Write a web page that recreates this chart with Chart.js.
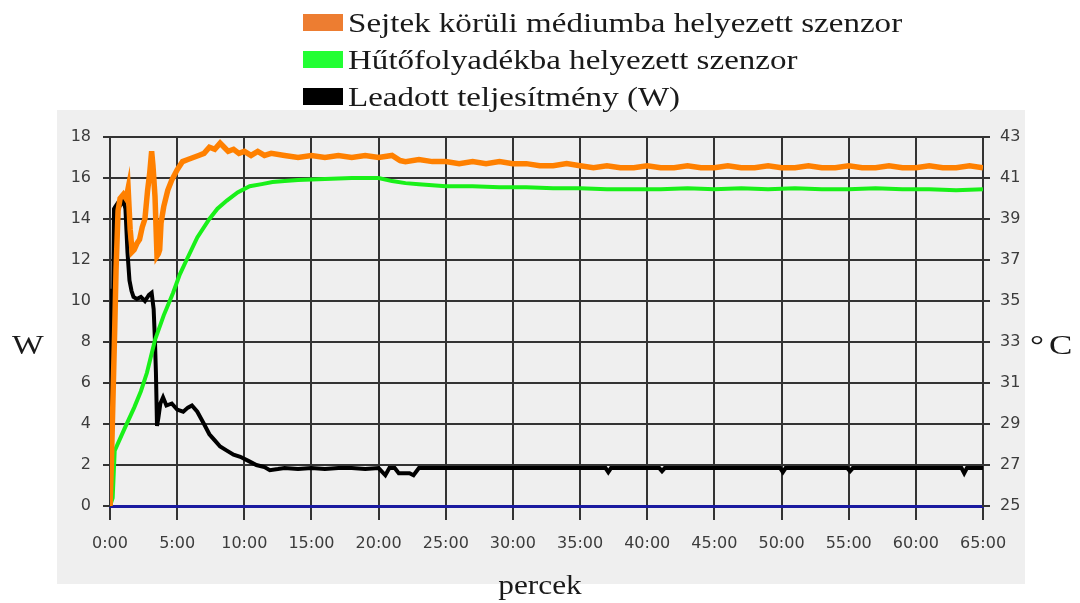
<!DOCTYPE html>
<html>
<head>
<meta charset="utf-8">
<script src="https://cdn.jsdelivr.net/npm/chart.js@4/dist/chart.umd.min.js"></script>
<style>
  body { margin: 0; background: #fff; }
  #wrap { position: relative; width: 1080px; height: 603px; overflow: hidden; }
  #plotBg { position: absolute; left: 57px; top: 110px; width: 968px; height: 474px; background: #efefef; }
  #chart { position: absolute; left: 0; top: 0; }
  .serif { position: absolute; font-family: "Liberation Serif", "Times New Roman", serif; font-size: 28px; line-height: 1; color: #1a1a1a; white-space: nowrap; }
  .legendRow { position: absolute; left: 303px; height: 28px; }
  .legendRow .swatch { position: absolute; left: 0; top: 5px; width: 40px; height: 17px; }
  .legendRow .label { position: absolute; left: 45px; top: 0; transform: scaleX(1.18); transform-origin: left center; }
</style>
</head>
<body>
<div id="wrap">
  <div id="plotBg"></div>
  <canvas id="chart" width="1080" height="603"></canvas>
  <div id="legend"></div>
  <div class="serif" id="yLeftTitle" style="left:12px; top:331px; transform:scaleX(1.2); transform-origin:left center;">W</div>
  <div class="serif" id="yRightTitle" style="left:1030px; top:331px; letter-spacing:4px; transform:scaleX(1.25); transform-origin:left center;">°C</div>
  <div class="serif" id="xTitle" style="left:540px; top:571px; transform:translateX(-50%) scaleX(1.12);">percek</div>
</div>
<script>
// time in minutes, temperatures in °C, power in W
const orangeLabel = "Sejtek körüli médiumba helyezett szenzor";
const greenLabel = "Hűtőfolyadékba helyezett szenzor";
const blackLabel = "Leadott teljesítmény (W)";

const orangeMin = [0, 0.1, 0.25, 0.35, 0.45, 0.6, 0.75, 1.0, 1.2, 1.35, 1.5, 1.65, 1.8, 2.0, 2.2, 2.4, 2.6, 2.8, 2.95, 3.1, 3.2, 3.35, 3.5, 3.6, 3.7, 3.8, 4.0, 4.3, 4.6, 5.0, 5.4, 5.8, 6.2, 6.6, 7.0, 7.4, 7.8, 8.2, 8.5, 8.8, 9.2, 9.6, 10, 10.5, 11, 11.5, 12, 13, 14, 15, 16, 17, 18, 19, 20, 21, 21.6, 22, 23, 24, 25, 26, 27, 28, 29, 30,
  31, 32, 33, 34, 35, 36, 37, 38, 39, 40, 41, 42, 43, 44, 45, 46, 47, 48, 49, 50, 51, 52, 53, 54, 55, 56, 57, 58, 59, 60, 61, 62, 63, 64, 65];
const orangeC = [25, 27.0, 31.0, 33.6, 36.5, 39.4, 40.0, 40.2, 40.0, 40.5, 38.5, 37.4, 37.5, 37.8, 38.0, 38.6, 39.0, 40.4, 41.2, 42.3, 41.6, 40.1, 37.2, 37.3, 37.5, 38.8, 39.6, 40.4, 40.9, 41.4, 41.8, 41.9, 42.0, 42.1, 42.2, 42.5, 42.4, 42.7, 42.5, 42.3, 42.4, 42.2, 42.3, 42.1, 42.3, 42.1, 42.2, 42.1, 42.0, 42.1, 42.0, 42.1, 42.0, 42.1, 42.0, 42.1, 41.85, 41.8, 41.9, 41.8, 41.8, 41.7, 41.8, 41.7, 41.8, 41.7,
  41.7, 41.6, 41.6, 41.7, 41.6, 41.5, 41.6, 41.5, 41.5, 41.6, 41.5, 41.5, 41.6, 41.5, 41.5, 41.6, 41.5, 41.5, 41.6, 41.5, 41.5, 41.6, 41.5, 41.5, 41.6, 41.5, 41.5, 41.6, 41.5, 41.5, 41.6, 41.5, 41.5, 41.6, 41.5];

const greenMin = [0, 0.2, 0.35, 1.1, 1.8, 2.3, 2.75, 3.35, 4.0, 4.7, 5.2, 5.7, 6.5, 7.4, 8.0, 8.7, 9.5, 10.4, 11.3, 12.1, 13, 14, 16, 18, 20, 21, 22, 23, 25, 27, 29, 31, 33, 35, 37, 39, 41, 43, 45, 47, 49, 51, 53, 55, 57, 59, 61, 63, 65];
const greenC = [25, 25.4, 27.7, 28.8, 29.8, 30.6, 31.5, 33.1, 34.3, 35.4, 36.3, 37.0, 38.1, 39.0, 39.5, 39.9, 40.3, 40.6, 40.7, 40.8, 40.85, 40.9, 40.95, 41.0, 41.0, 40.85, 40.75, 40.7, 40.6, 40.6, 40.55, 40.55, 40.5, 40.5, 40.45, 40.45, 40.45, 40.5, 40.45, 40.5, 40.45, 40.5, 40.45, 40.45, 40.5, 40.45, 40.45, 40.4, 40.45];

const blackMin = [0, 0.05, 0.1, 0.2, 0.3, 0.4, 0.6, 0.8, 1.0, 1.15, 1.3, 1.45, 1.6, 1.75, 2.0, 2.3, 2.6, 2.9, 3.1, 3.25, 3.35, 3.42, 3.5, 3.6, 3.75, 3.95, 4.2, 4.6, 5.0, 5.45, 5.8, 6.1, 6.5, 7.0, 7.4, 7.8, 8.2, 8.7, 9.2, 9.7, 10.3, 10.9, 11.5, 11.9, 12.5, 13, 14, 15, 16, 17, 18, 19, 20, 20.5, 20.8, 21.2, 21.5, 22.3, 22.6, 23, 25, 27, 30, 33, 36.9, 37.1, 37.3, 40, 40.9, 41.1, 41.3, 45, 49.9, 50.1, 50.3, 53, 54.9, 55.1, 55.3, 58, 61, 63.4, 63.6, 63.8, 65];
const blackW = [0, 10.6, 7.5, 7.6, 14.5, 14.6, 14.8, 14.7, 14.9, 14.5, 12.4, 11.0, 10.5, 10.2, 10.1, 10.2, 10.0, 10.3, 10.4, 9.6, 8.0, 6.5, 3.9, 4.3, 5.0, 5.3, 4.9, 5.0, 4.7, 4.6, 4.8, 4.9, 4.6, 4.0, 3.5, 3.2, 2.9, 2.7, 2.5, 2.4, 2.2, 2.0, 1.9, 1.75, 1.8, 1.85, 1.8, 1.85, 1.8, 1.85, 1.85, 1.8, 1.85, 1.5, 1.85, 1.85, 1.6, 1.6, 1.5, 1.85, 1.85, 1.85, 1.85, 1.85, 1.85, 1.65, 1.85, 1.85, 1.85, 1.7, 1.85, 1.85, 1.85, 1.65, 1.85, 1.85, 1.85, 1.7, 1.85, 1.85, 1.85, 1.85, 1.6, 1.85, 1.85];

const xTicks = [0, 5, 10, 15, 20, 25, 30, 35, 40, 45, 50, 55, 60, 65];

function toPoints(xs, ys) {
  return xs.map((x, i) => ({ x: x, y: ys[i] }));
}

const gridColor = "#333333";
const tickFont = { family: "DejaVu Sans", size: 16 };
const tickColor = "#3c3c3c";

const chart = new Chart(document.getElementById("chart"), {
  type: "line",
  data: {
    datasets: [
      {
        label: orangeLabel,
        data: toPoints(orangeMin, orangeC),
        yAxisID: "yC",
        borderColor: "#ff8000",
        backgroundColor: "#ed7d31",
        borderWidth: 5.5,
        pointRadius: 0,
        tension: 0
      },
      {
        label: greenLabel,
        data: toPoints(greenMin, greenC),
        yAxisID: "yC",
        borderColor: "#19f019",
        backgroundColor: "#22ff33",
        borderWidth: 4,
        pointRadius: 0,
        tension: 0
      },
      {
        label: blackLabel,
        data: toPoints(blackMin, blackW),
        yAxisID: "yW",
        borderColor: "#000000",
        backgroundColor: "#000000",
        borderWidth: 4,
        pointRadius: 0,
        tension: 0
      }
    ]
  },
  options: {
    responsive: false,
    animation: false,
    layout: { padding: { left: 0, right: 37, top: 137, bottom: 37 } },
    plugins: {
      legend: { display: false },
      tooltip: { enabled: false }
    },
    scales: {
      x: {
        type: "linear",
        min: 0,
        max: 65,
        afterBuildTicks: axis => { axis.ticks = xTicks.map(v => ({ value: v })); },
        afterFit: axis => { axis.height = 60; },
        ticks: {
          callback: v => v + ":00",
          font: tickFont,
          color: tickColor,
          padding: 14,
          maxRotation: 0,
          autoSkip: false
        },
        grid: { color: gridColor, lineWidth: 2, tickLength: 14 },
        border: { color: "#1a1aa0", width: 3 }
      },
      yW: {
        position: "left",
        min: 0,
        max: 18,
        afterFit: axis => { axis.width = 110; },
        ticks: { stepSize: 2, font: tickFont, color: tickColor, padding: 12 },
        grid: { color: gridColor, lineWidth: 2, tickLength: 7 },
        border: { color: gridColor, width: 2 }
      },
      yC: {
        position: "right",
        min: 25,
        max: 43,
        afterFit: axis => { axis.width = 60; },
        ticks: { stepSize: 2, font: tickFont, color: tickColor, padding: 10 },
        grid: { color: gridColor, lineWidth: 2, tickLength: 7, drawOnChartArea: false },
        border: { color: gridColor, width: 2 }
      }
    }
  }
});

// HTML legend built from the chart datasets
const legendEl = document.getElementById("legend");
chart.data.datasets.forEach((ds, i) => {
  const row = document.createElement("div");
  row.className = "legendRow serif";
  row.style.top = (9 + i * 37) + "px";
  row.innerHTML = `<div class="swatch" style="background:${ds.backgroundColor}"></div><span class="label">${ds.label}</span>`;
  legendEl.appendChild(row);
});
</script>
</body>
</html>
